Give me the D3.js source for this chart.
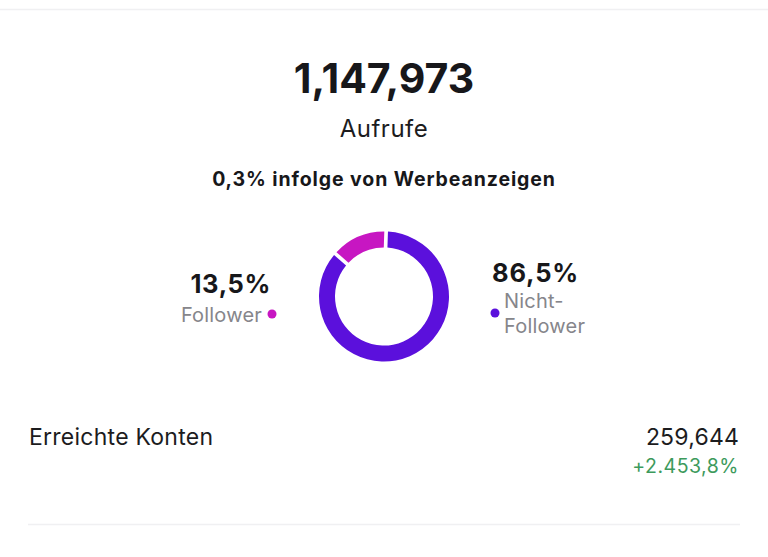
<!DOCTYPE html>
<html lang="de">
<head>
<meta charset="utf-8"/>
<script src="https://d3js.org/d3.v7.min.js"></script>
<style>
  html, body { margin: 0; padding: 0; background: #fff; }
  text { font-family: Inter, "Noto Sans", sans-serif; }
</style>
</head>
<body>
<div id="chart"></div>
<script>
// data
var segments = ["Follower", "Nicht-Follower"];
var shares = [13.5, 86.5];
var shareLabels = ["13,5%", "86,5%"];
var totalViews = "1,147,973";
var adShare = "0,3%";
var reached = "259,644";
var reachedChange = "+2.453,8%";

var width = 768, height = 557;
var cx = 384, cy = 296.5;

var svg = d3.select("#chart")
    .append("svg")
    .attr("width", width)
    .attr("height", height);

var color = d3.scaleOrdinal()
    .domain(segments)
    .range(["#c716c2", "#5b10dc"]);

// separator lines
svg.append("line")
    .attr("x1", 0).attr("x2", width)
    .attr("y1", 9.5).attr("y2", 9.5)
    .attr("stroke", "#f0f0f2").attr("stroke-width", 1.5);
svg.append("line")
    .attr("x1", 28).attr("x2", 740)
    .attr("y1", 524.5).attr("y2", 524.5)
    .attr("stroke", "#f0f0f2").attr("stroke-width", 1.5);

// header
svg.append("text")
    .attr("x", cx).attr("y", 93)
    .attr("text-anchor", "middle")
    .attr("font-size", 41).attr("font-weight", 700)
    .attr("fill", "#17171a")
    .text(totalViews);

svg.append("text")
    .attr("x", cx).attr("y", 137)
    .attr("text-anchor", "middle")
    .attr("font-size", 24).attr("font-weight", 400)
    .attr("letter-spacing", 0.5)
    .attr("fill", "#1c1c1e")
    .text("Aufrufe");

svg.append("text")
    .attr("x", cx).attr("y", 186)
    .attr("text-anchor", "middle")
    .attr("font-size", 19.5).attr("font-weight", 700)
    .attr("letter-spacing", 0.9)
    .attr("fill", "#17171a")
    .text(adShare + " infolge von Werbeanzeigen");

// donut
var pie = d3.pie()
    .sort(null)
    .startAngle(-shares[0] / 100 * 2 * Math.PI)
    .endAngle(2 * Math.PI - shares[0] / 100 * 2 * Math.PI)
    .padAngle(0.045);

var arc = d3.arc()
    .innerRadius(49)
    .outerRadius(65);

svg.append("g")
    .attr("transform", "translate(" + cx + "," + cy + ")")
    .selectAll("path")
    .data(pie(shares))
    .enter()
    .append("path")
        .attr("d", arc)
        .attr("fill", function (d, i) { return color(segments[i]); });

// left label (Follower)
svg.append("text")
    .attr("x", 271).attr("y", 293)
    .attr("text-anchor", "end")
    .attr("font-size", 25.5).attr("font-weight", 700)
    .attr("letter-spacing", 0.6)
    .attr("fill", "#17171a")
    .text(shareLabels[0]);
svg.append("text")
    .attr("x", 262).attr("y", 322)
    .attr("text-anchor", "end")
    .attr("font-size", 20)
    .attr("letter-spacing", 0.2)
    .attr("fill", "#86868b")
    .text(segments[0]);
svg.append("circle")
    .attr("cx", 272).attr("cy", 314).attr("r", 4.5)
    .attr("fill", color(segments[0]));

// right label (Nicht-Follower)
svg.append("text")
    .attr("x", 492).attr("y", 282)
    .attr("font-size", 25.5).attr("font-weight", 700)
    .attr("letter-spacing", 0.8)
    .attr("fill", "#17171a")
    .text(shareLabels[1]);
svg.append("circle")
    .attr("cx", 495).attr("cy", 313).attr("r", 4.5)
    .attr("fill", color(segments[1]));
var rightName = svg.append("text")
    .attr("font-size", 20)
    .attr("letter-spacing", 0.2)
    .attr("fill", "#86868b");
rightName.append("tspan").attr("x", 504).attr("y", 308).text("Nicht-");
rightName.append("tspan").attr("x", 504).attr("y", 333).text("Follower");

// reached accounts row
svg.append("text")
    .attr("x", 29).attr("y", 445)
    .attr("font-size", 23)
    .attr("letter-spacing", 0.25)
    .attr("fill", "#1c1c1e")
    .text("Erreichte Konten");
svg.append("text")
    .attr("x", 739).attr("y", 445)
    .attr("text-anchor", "end")
    .attr("font-size", 23)
    .attr("letter-spacing", 0.2)
    .attr("fill", "#1c1c1e")
    .text(reached);
svg.append("text")
    .attr("x", 739).attr("y", 473)
    .attr("text-anchor", "end")
    .attr("font-size", 19.5)
    .attr("letter-spacing", 0.5)
    .attr("fill", "#3d9a5c")
    .text(reachedChange);
</script>
</body>
</html>
